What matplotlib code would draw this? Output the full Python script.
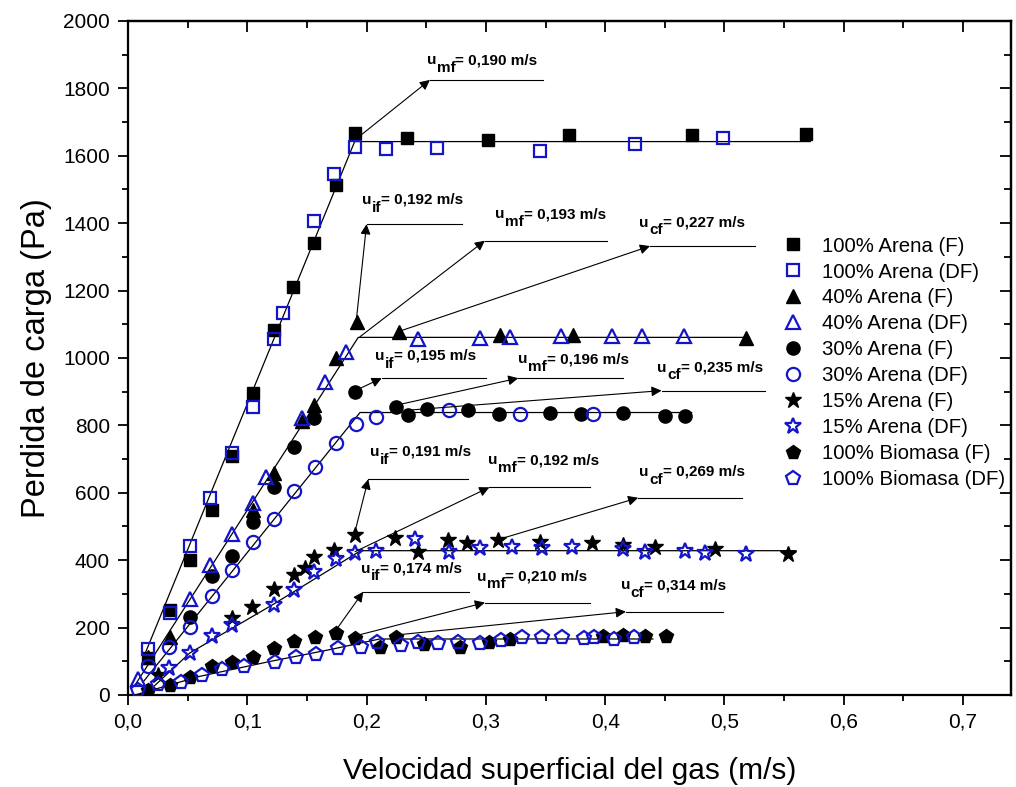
import matplotlib
matplotlib.use("Agg")
import matplotlib.pyplot as plt
from matplotlib.ticker import MultipleLocator

plt.rcParams["font.family"] = ["Liberation Sans", "DejaVu Sans"]

NARROW = ["Liberation Sans Narrow", "Liberation Sans", "DejaVu Sans"]
BLUE = "#1414C8"

# --- datos ---
a100_f_x = [0.017, 0.035, 0.052, 0.070, 0.087, 0.105, 0.122, 0.138, 0.156, 0.174, 0.190, 0.234, 0.302, 0.370, 0.473, 0.568]
a100_f_y = [110, 252, 400, 549, 709, 896, 1083, 1210, 1341, 1512, 1667, 1653, 1647, 1661, 1661, 1664]
a100_df_x = [0.017, 0.035, 0.052, 0.069, 0.087, 0.105, 0.122, 0.130, 0.156, 0.173, 0.190, 0.216, 0.259, 0.345, 0.425, 0.499]
a100_df_y = [136, 244, 442, 584, 719, 854, 1056, 1132, 1407, 1546, 1627, 1620, 1622, 1615, 1635, 1652]

a40_f_x = [0.017, 0.035, 0.105, 0.122, 0.146, 0.156, 0.174, 0.192, 0.227, 0.312, 0.373, 0.518]
a40_f_y = [114, 173, 550, 660, 813, 860, 1000, 1108, 1078, 1068, 1068, 1058]
a40_df_x = [0.008, 0.052, 0.069, 0.087, 0.105, 0.116, 0.146, 0.165, 0.183, 0.243, 0.295, 0.320, 0.363, 0.406, 0.431, 0.466]
a40_df_y = [47, 285, 386, 478, 570, 648, 821, 930, 1019, 1056, 1058, 1063, 1065, 1065, 1065, 1065]

a30_f_x = [0.052, 0.070, 0.087, 0.105, 0.122, 0.139, 0.156, 0.190, 0.225, 0.235, 0.251, 0.285, 0.311, 0.354, 0.380, 0.415, 0.450, 0.467]
a30_f_y = [232, 353, 412, 514, 618, 737, 821, 900, 855, 831, 848, 846, 834, 838, 834, 836, 828, 828]
a30_df_x = [0.017, 0.034, 0.052, 0.070, 0.087, 0.105, 0.122, 0.139, 0.157, 0.174, 0.191, 0.208, 0.269, 0.329, 0.390]
a30_df_y = [86, 141, 203, 294, 371, 455, 521, 606, 676, 749, 803, 826, 846, 834, 834]

a15_f_x = [0.025, 0.087, 0.104, 0.122, 0.139, 0.148, 0.156, 0.173, 0.190, 0.224, 0.243, 0.268, 0.284, 0.310, 0.345, 0.389, 0.415, 0.442, 0.492, 0.553]
a15_f_y = [59, 228, 262, 314, 356, 376, 410, 430, 475, 465, 425, 460, 450, 460, 455, 452, 445, 438, 432, 418]
a15_df_x = [0.034, 0.052, 0.070, 0.087, 0.122, 0.139, 0.156, 0.174, 0.190, 0.208, 0.241, 0.269, 0.295, 0.322, 0.347, 0.372, 0.415, 0.433, 0.467, 0.484, 0.518]
a15_df_y = [79, 124, 175, 208, 267, 312, 366, 403, 420, 428, 462, 425, 435, 438, 435, 438, 432, 425, 428, 422, 418]

bio_f_x = [0.017, 0.035, 0.052, 0.070, 0.087, 0.105, 0.122, 0.139, 0.157, 0.174, 0.190, 0.211, 0.225, 0.248, 0.278, 0.303, 0.320, 0.398, 0.415, 0.433, 0.451]
bio_f_y = [15, 30, 54, 86, 99, 114, 139, 161, 173, 183, 168, 143, 173, 151, 143, 158, 165, 175, 178, 175, 175]
bio_df_x = [0.008, 0.025, 0.044, 0.062, 0.079, 0.097, 0.123, 0.141, 0.158, 0.176, 0.195, 0.209, 0.229, 0.243, 0.260, 0.277, 0.295, 0.313, 0.330, 0.347, 0.364, 0.382, 0.391, 0.407, 0.424]
bio_df_y = [15, 33, 37, 59, 76, 86, 99, 114, 122, 138, 143, 158, 148, 158, 153, 158, 153, 163, 173, 173, 173, 168, 173, 165, 173]

# lineas de ajuste (tramo lineal + meseta)
fit_lines = [
    ([0.014, 0.190, 0.572], [120, 1642, 1642]),
    ([0.006, 0.193, 0.521], [30, 1061, 1061]),
    ([0.013, 0.1945, 0.4725], [40, 838, 838]),
    ([0.020, 0.052, 0.120, 0.195, 0.560], [20, 125, 265, 428, 428]),
    ([0.006, 0.060, 0.120, 0.170, 0.211, 0.440], [0, 55, 100, 135, 166, 166]),
]

# anotaciones: (subindice, valor, inicio flecha, punta, fin de linea, posicion texto)
notes = [
    ("mf", "0,190", (0.1945, 1659), (0.2531, 1825), 0.3481, (0.2503, 1872)),
    ("if", "0,192", (0.1917, 1122), (0.2000, 1397), 0.2797, (0.1960, 1457)),
    ("mf", "0,193", (0.1945, 1063), (0.2992, 1348), 0.4013, (0.3076, 1414)),
    ("cf", "0,227", (0.2266, 1078), (0.4376, 1332), 0.5256, (0.4286, 1389)),
    ("if", "0,195", (0.1917, 905), (0.2127, 940), 0.3001, (0.2070, 994)),
    ("mf", "0,196", (0.2252, 860), (0.3272, 940), 0.4152, (0.3272, 984)),
    ("cf", "0,235", (0.2350, 845), (0.4473, 903), 0.5340, (0.4437, 959)),
    ("if", "0,191", (0.1903, 485), (0.2014, 640), 0.2852, (0.2029, 709)),
    ("mf", "0,192", (0.1903, 425), (0.3029, 616), 0.3873, (0.3020, 684)),
    ("cf", "0,269", (0.3112, 462), (0.4277, 585), 0.5144, (0.4286, 650)),
    ("if", "0,174", (0.1735, 188), (0.1972, 306), 0.2861, (0.1950, 363)),
    ("mf", "0,210", (0.1903, 175), (0.2992, 274), 0.3873, (0.2923, 339)),
    ("cf", "0,314", (0.2252, 178), (0.4174, 247), 0.4990, (0.4130, 314)),
]

x_ticks = [0.0, 0.1, 0.2, 0.3, 0.4, 0.5, 0.6, 0.7]
x_tick_labels = ["0,0", "0,1", "0,2", "0,3", "0,4", "0,5", "0,6", "0,7"]
y_ticks = [0, 200, 400, 600, 800, 1000, 1200, 1400, 1600, 1800, 2000]

fig = plt.figure(figsize=(10.16, 7.87), dpi=100)
ax = fig.add_axes([0.126, 0.117, 0.8688, 0.8564])

for fx, fy in fit_lines:
    ax.plot(fx, fy, color="black", lw=0.9, zorder=1)

series = [
    (a100_f_x, a100_f_y, "s", 9, True, "100% Arena (F)"),
    (a100_df_x, a100_df_y, "s", 9, False, "100% Arena (DF)"),
    (a40_f_x, a40_f_y, "^", 10, True, "40% Arena (F)"),
    (a40_df_x, a40_df_y, "^", 10, False, "40% Arena (DF)"),
    (a30_f_x, a30_f_y, "o", 9.5, True, "30% Arena (F)"),
    (a30_df_x, a30_df_y, "o", 9.5, False, "30% Arena (DF)"),
    (a15_f_x, a15_f_y, "*", 12, True, "15% Arena (F)"),
    (a15_df_x, a15_df_y, "*", 12, False, "15% Arena (DF)"),
    (bio_f_x, bio_f_y, "p", 10.5, True, "100% Biomasa (F)"),
    (bio_df_x, bio_df_y, "p", 10.5, False, "100% Biomasa (DF)"),
]
for sx, sy, mk, ms, filled, lab in series:
    if filled:
        ax.plot(sx, sy, ls="none", marker=mk, ms=ms, color="black", mec="black", label=lab, zorder=3)
    else:
        ax.plot(sx, sy, ls="none", marker=mk, ms=ms, mfc="none", mec=BLUE, mew=1.6, label=lab, zorder=4)

for sub, val, start, head, xend, tpos in notes:
    ax.annotate("", xy=head, xytext=start,
                arrowprops=dict(arrowstyle="-|>", color="black", lw=0.8,
                                mutation_scale=15, shrinkA=0, shrinkB=0), zorder=5)
    ax.plot([head[0], xend], [head[1], head[1]], color="black", lw=0.8, zorder=5)
    # texto "u" + subindice bajado + "= valor m/s"
    t1 = ax.text(tpos[0], tpos[1], "u", fontsize=11, fontweight="bold",
                 ha="left", va="baseline")
    t2 = ax.annotate(sub, xy=(1, 0), xycoords=t1, xytext=(0.3, -5.5),
                     textcoords="offset points", fontsize=11, fontweight="bold",
                     ha="left", va="bottom")
    ax.annotate("= " + val + " m/s", xy=(1, 0), xycoords=t2, xytext=(0, 5.5),
                textcoords="offset points", fontsize=11, fontweight="bold",
                ha="left", va="bottom")

ax.set_xlim(0, 0.74)
ax.set_ylim(0, 2000)
ax.set_xticks(x_ticks)
ax.set_xticklabels(x_tick_labels, fontfamily=NARROW, fontsize=15)
ax.set_yticks(y_ticks)
ax.set_yticklabels([str(v) for v in y_ticks], fontfamily=NARROW, fontsize=15)
ax.xaxis.set_minor_locator(MultipleLocator(0.05))
ax.yaxis.set_minor_locator(MultipleLocator(100))
ax.tick_params(which="both", direction="out", width=1.3, top=False, right=False)
ax.tick_params(which="major", length=7, pad=6)
ax.tick_params(which="minor", length=4)

# ticks interiores en los ejes superior y derecho
sec_x = ax.secondary_xaxis("top")
sec_x.set_xticks(x_ticks)
sec_x.set_xticklabels([])
sec_x.xaxis.set_minor_locator(MultipleLocator(0.05))
sec_x.tick_params(which="both", direction="in", width=1.3)
sec_x.tick_params(which="major", length=8)
sec_x.tick_params(which="minor", length=5)
sec_y = ax.secondary_yaxis("right")
sec_y.set_yticks(y_ticks)
sec_y.set_yticklabels([])
sec_y.yaxis.set_minor_locator(MultipleLocator(100))
sec_y.tick_params(which="both", direction="in", width=1.3)
sec_y.tick_params(which="major", length=8)
sec_y.tick_params(which="minor", length=5)
for sp in list(ax.spines.values()) + [sec_x.spines["top"], sec_y.spines["right"]]:
    sp.set_linewidth(1.6)

ax.set_xlabel("Velocidad superficial del gas (m/s)", fontfamily=NARROW, fontsize=21.5, labelpad=18)
ax.set_ylabel("Perdida de carga (Pa)", fontfamily=NARROW, fontsize=23.5, labelpad=8)

ax.legend(loc="upper left", bbox_to_anchor=(0.7425, 0.680), frameon=False,
          fontsize=14.7, numpoints=1, handlelength=0.9, handletextpad=1.0,
          labelspacing=0.34, borderpad=0, borderaxespad=0)

fig.savefig("out.png", dpi=100)
